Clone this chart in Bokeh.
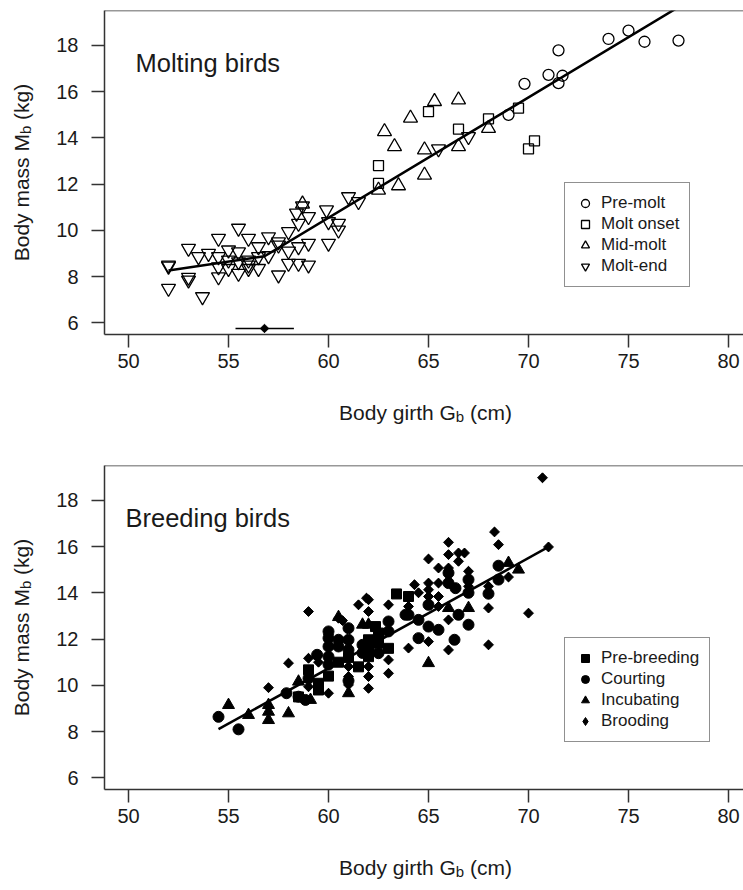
import numpy as np
from bokeh.plotting import figure
from bokeh.models import FixedTicker, Legend, LegendItem, Label, Span, Range1d
from bokeh.core.properties import value
from bokeh.layouts import column
from bokeh.embed import file_html
from bokeh.resources import INLINE

FONT = "Liberation Sans"

# ---------------- Molting birds ----------------
premolt_x = [69.0, 69.8, 71.0, 71.5, 71.5, 71.7, 74.0, 75.0, 75.8, 77.5]
premolt_y = [14.99, 16.33, 16.72, 17.78, 16.36, 16.68, 18.27, 18.63, 18.15, 18.2]

onset_x = [62.5, 62.5, 65.0, 66.5, 68.0, 69.5, 70.0, 70.3]
onset_y = [12.8, 12.03, 15.13, 14.37, 14.82, 15.28, 13.52, 13.87]

midmolt_x = [58.7, 62.5, 62.8, 63.3, 63.5, 64.1, 64.8, 64.8, 65.3, 66.5, 66.5, 68.0]
midmolt_y = [11.14, 11.74, 14.27, 13.62, 11.93, 14.85, 13.48, 12.39, 15.57, 15.64, 13.62, 14.41]

moltend_x = [52.0, 52.0, 52.0, 53.0, 53.0, 53.0, 53.5, 53.7, 54.0,
             54.5, 54.5, 54.5, 54.5, 55.0, 55.0, 55.0,
             55.5, 55.5, 55.5, 55.5, 56.0, 56.0, 56.0, 56.0,
             56.5, 56.5, 56.5, 57.0, 57.0, 57.5, 57.5, 57.5,
             58.0, 58.0, 58.0, 58.5, 58.5, 58.5, 58.4, 58.7,
             59.0, 59.0, 59.0, 59.9, 60.0, 60.0, 60.5, 60.5,
             61.0, 61.5, 65.5, 67.0]
moltend_y = [8.50, 8.45, 7.49, 9.22, 7.97, 7.85, 8.86, 7.13, 9.0,
             9.65, 8.86, 8.42, 7.99, 9.15, 8.71, 8.35,
             10.09, 9.07, 8.64, 8.14, 9.65, 8.71, 8.35, 8.50,
             9.29, 8.86, 8.35, 9.72, 8.90, 9.36, 9.50, 8.07,
             9.94, 9.10, 8.57, 10.30, 9.29, 8.57, 10.74, 11.05,
             10.59, 9.44, 8.50, 10.88, 10.37, 9.44, 10.30, 10.01,
             11.45, 11.24, 13.52, 14.05]

molt_fit_x = [52.0, 56.8, 77.6]
molt_fit_y = [8.27, 8.88, 19.7]

err_x_low, err_x_high, err_x_mid, err_y = 55.35, 58.27, 56.8, 5.76

# ---------------- Breeding birds ----------------
prebreed_x = [58.5, 59.0, 59.5, 59.5, 60.0, 60.5, 61.0, 61.5, 62.0, 62.0, 62.0,
              62.35, 62.5, 62.5, 63.0, 63.4, 64.0]
prebreed_y = [9.5, 10.67, 10.09, 9.80, 10.4, 11.0, 11.2, 10.8, 11.97, 11.68, 11.24,
              12.54, 12.26, 11.82, 11.6, 13.95, 13.84]

courting_x = [54.5, 55.5, 57.9, 58.5, 58.85, 59.0, 59.43, 60.0, 60.0, 60.0, 60.0, 60.0,
              60.5, 60.5, 61.0, 61.0, 61.0, 61.0, 61.7, 61.7, 62.0, 62.5, 62.5,
              63.0, 63.0, 63.85, 64.0, 64.5, 64.5, 65.0, 65.0, 65.5, 66.0, 66.0,
              66.35, 66.3, 66.5, 67.0, 67.0, 67.0, 68.0, 68.5, 68.5]
courting_y = [8.64, 8.10, 9.66, 9.51, 9.37, 10.3, 11.32, 12.33, 12.04, 11.68, 11.24, 10.9,
              11.97, 11.68, 12.47, 11.97, 11.53, 10.2, 11.75, 11.4, 11.53, 12.11, 11.39,
              12.76, 12.33, 13.05, 13.05, 12.83, 12.04, 13.48, 12.54, 12.40, 14.86, 14.42,
              14.2, 11.97, 13.05, 14.57, 14.0, 12.62, 13.96, 15.17, 14.57]

incub_x = [55.0, 56.0, 57.0, 57.0, 57.0, 58.0, 58.5, 59.1, 60.5, 61.0, 61.7, 62.0,
           65.0, 66.0, 67.0, 69.0, 69.5]
incub_y = [9.15, 8.72, 8.5, 8.86, 9.15, 8.79, 10.16, 9.37, 12.95, 9.66, 12.62, 12.62,
           10.96, 13.34, 13.34, 15.29, 15.0]

brood_x = [57.0, 58.0, 58.6, 59.0, 59.0, 59.0, 59.5, 60.0, 60.0, 60.5, 60.7, 61.0, 61.0,
           61.0, 61.5, 61.9, 62.0, 62.0, 62.0, 62.0, 62.0, 63.0, 63.0, 63.0, 64.0,
           64.0, 64.3, 64.5, 65.0, 65.0, 65.0, 65.0, 65.0, 65.5, 65.5, 65.5, 65.5,
           66.0, 66.0, 66.0, 66.0, 66.0, 66.5, 66.5, 66.8, 67.0, 67.0, 68.0, 68.0,
           68.0, 68.3, 68.5, 69.0, 70.0, 70.7, 71.0]
brood_y = [9.90, 10.96, 9.51, 13.19, 11.17, 9.94, 11.0, 9.66, 12.2, 12.9, 12.8, 10.81, 10.38,
           10.02, 13.48, 13.77, 13.70, 13.19, 10.81, 10.38, 9.87, 13.48, 11.10, 10.52, 13.41,
           11.61, 14.35, 14.0, 15.46, 14.42, 14.13, 13.84, 11.89, 15.07, 14.42, 13.84, 13.41,
           16.18, 15.65, 15.07, 12.83, 11.53, 15.72, 15.36, 15.72, 14.93, 14.28, 14.28, 13.34,
           11.75, 16.63, 16.08, 14.68, 13.12, 18.97, 15.98]

breed_fit_x = [54.5, 71.0]
breed_fit_y = [8.11, 15.98]

x_ticks = [50, 55, 60, 65, 70, 75, 80]
y_ticks = [6, 8, 10, 12, 14, 16, 18]

AX = "#333333"
TXT = "#1a1a1a"
X0, X1 = 48.8, 80.75
Y0, Y1 = 5.5, 19.5
FRAME_LEFT = 104          # px
PX_PER_X = 20.0           # px per cm
PX_PER_Y = 324.0 / (Y1 - Y0)


def dx(off_px):
    """data x for a horizontal pixel offset from the frame's left edge"""
    return X0 + off_px / PX_PER_X


def dy(off_px):
    """data y for a vertical pixel offset (upwards) from the frame's bottom edge"""
    return Y0 + off_px / PX_PER_Y


def title_text(p, xs, ys, texts, size, angle):
    p.text(x=xs, y=ys, text=texts, angle=angle, text_font=value(FONT),
           text_font_size=value(size), text_color=TXT, text_baseline="alphabetic",
           text_align="left", level="overlay")


def make_fig(height, top_b, bottom_b):
    p = figure(width=743, height=height, output_backend="svg", toolbar_location=None,
               x_range=Range1d(X0, X1), y_range=Range1d(Y0, Y1),
               min_border_left=FRAME_LEFT, min_border_right=0,
               min_border_top=top_b, min_border_bottom=bottom_b)
    p.outline_line_color = None
    p.grid.visible = False
    p.background_fill_color = "white"
    for ax in (p.xaxis[0], p.yaxis[0]):
        ax.axis_line_color = AX
        ax.axis_line_width = 1.5
        ax.major_tick_line_color = AX
        ax.major_tick_line_width = 1.5
        ax.major_tick_out = 13
        ax.major_tick_in = 0
        ax.minor_tick_line_color = None
        ax.major_label_text_font = FONT
        ax.major_label_text_font_size = "20px"
        ax.major_label_text_color = TXT
    p.xaxis[0].ticker = FixedTicker(ticks=x_ticks)
    p.yaxis[0].ticker = FixedTicker(ticks=y_ticks)
    p.xaxis[0].major_label_standoff = 6
    p.yaxis[0].major_label_standoff = 13
    p.add_layout(Span(location=Y1, dimension="width", line_color=AX, line_width=1.5))

    ang = np.pi / 2
    # y-axis title "Body mass M_b (kg)"
    title_text(p, [dx(-83), dx(-83)], [dy(73.2), dy(214.6)], ["Body mass M", "(kg)"], "21px", ang)
    title_text(p, [dx(-79)], [dy(200.4)], ["b"], "15px", ang)
    # x-axis title "Body girth G_b (cm)"
    title_text(p, [dx(234.6), dx(365.5)], [dy(-78), dy(-78)], ["Body girth G", "(cm)"], "21px", 0)
    title_text(p, [dx(351.3)], [dy(-82)], ["b"], "15px", 0)
    return p


def style_legend(p, items):
    lg = Legend(items=items, location=(460, 47), orientation="vertical",
                label_text_font=FONT, label_text_font_size="17px", label_text_color=TXT,
                glyph_width=20, glyph_height=20, label_height=20, spacing=1,
                padding=10, label_standoff=6, margin=0,
                border_line_color="#222222", border_line_width=1.2,
                background_fill_color="white", background_fill_alpha=1.0)
    p.add_layout(lg)


# ---------- top ----------
p1 = make_fig(445, 10, 111)
lw = 1.3
r_pre = p1.scatter(premolt_x, premolt_y, marker="circle", size=11, fill_color=None,
                   line_color="black", line_width=lw)
r_on = p1.scatter(onset_x, onset_y, marker="square", size=10, fill_color=None,
                  line_color="black", line_width=lw)
r_mid = p1.scatter(midmolt_x, midmolt_y, marker="triangle", size=14, fill_color=None,
                   line_color="black", line_width=lw)
r_end = p1.scatter(moltend_x, moltend_y, marker="inverted_triangle", size=14, fill_color=None,
                   line_color="black", line_width=lw)
p1.line(molt_fit_x, molt_fit_y, line_color="black", line_width=2.5)
p1.segment(x0=[err_x_low], x1=[err_x_high], y0=[err_y], y1=[err_y], line_color="black", line_width=1.5)
p1.scatter([err_x_mid], [err_y], marker="square", angle=np.pi / 4, size=6, fill_color="black",
           line_color="black")
p1.add_layout(Label(x=50.35, y=17.24, text="Molting birds", text_font=FONT, text_font_size="25.5px",
                    text_color=TXT, text_baseline="alphabetic", text_align="left"))
style_legend(p1, [LegendItem(label="Pre-molt", renderers=[r_pre]),
                  LegendItem(label="Molt onset", renderers=[r_on]),
                  LegendItem(label="Mid-molt", renderers=[r_mid]),
                  LegendItem(label="Molt-end", renderers=[r_end])])

# ---------- bottom ----------
p2 = make_fig(445, 20, 101)
# narrow diamonds hidden under the rotated squares; used for the legend symbol
r_br_leg = p2.scatter(brood_x, brood_y, marker="diamond", size=9, fill_color="black", line_color="black")
r_pb = p2.scatter(prebreed_x, prebreed_y, marker="square", size=10, fill_color="black",
                  line_color="black")
r_co = p2.scatter(courting_x, courting_y, marker="circle", size=11, fill_color="black",
                  line_color="black")
r_in = p2.scatter(incub_x, incub_y, marker="triangle", size=12, fill_color="black",
                  line_color="black")
r_br = p2.scatter(brood_x, brood_y, marker="square", angle=np.pi / 4, size=7, fill_color="black",
                  line_color="black")
p2.line(breed_fit_x, breed_fit_y, line_color="black", line_width=2.5)
p2.add_layout(Label(x=49.85, y=17.24, text="Breeding birds", text_font=FONT, text_font_size="25.5px",
                    text_color=TXT, text_baseline="alphabetic", text_align="left"))
style_legend(p2, [LegendItem(label="Pre-breeding", renderers=[r_pb]),
                  LegendItem(label="Courting", renderers=[r_co]),
                  LegendItem(label="Incubating", renderers=[r_in]),
                  LegendItem(label="Brooding", renderers=[r_br_leg])])

layout = column(p1, p2, spacing=0)
open("out.html", "w").write(file_html(layout, INLINE))
